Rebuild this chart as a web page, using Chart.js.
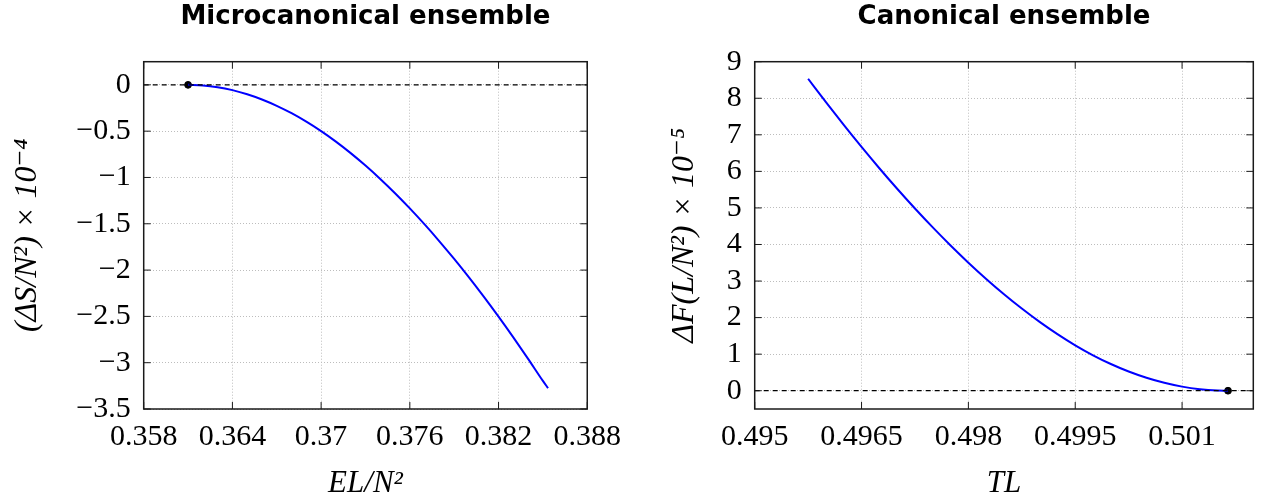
<!DOCTYPE html>
<html>
<head>
<meta charset="utf-8">
<script src="https://cdn.jsdelivr.net/npm/chart.js@4"></script>
<style>
  html, body { margin: 0; padding: 0; background: #fff; }
  #wrap { position: relative; width: 1262px; height: 504px; }
  .box { position: absolute; top: 0; width: 631px; height: 504px; }
</style>
</head>
<body>
<div id="wrap">
  <div class="box" style="left:0"><canvas id="microChart" width="631" height="504"></canvas></div>
  <div class="box" style="left:631px"><canvas id="canonChart" width="631" height="504"></canvas></div>
</div>
<script>
// Microcanonical: entropy difference vs energy
const microE = [0.361, 0.362, 0.363, 0.364, 0.365, 0.366, 0.367, 0.368, 0.369, 0.370, 0.371, 0.372, 0.373,
  0.374, 0.375, 0.376, 0.377, 0.378, 0.379, 0.380, 0.381, 0.382, 0.383, 0.384, 0.385, 0.38535];
const microS = [0, -0.0062, -0.0254, -0.0572, -0.1014, -0.1578, -0.2261, -0.3061, -0.3974, -0.4999, -0.6132,
  -0.7372, -0.8715, -1.0159, -1.1701, -1.3339, -1.5070, -1.6891, -1.8801, -2.0796, -2.2874, -2.5033,
  -2.7269, -2.9581, -3.1965, -3.275];
const microCrit = [0.361, 0];
const microTicksX = [0.358, 0.364, 0.37, 0.376, 0.382, 0.388];
const microTicksY = [0, -0.5, -1, -1.5, -2, -2.5, -3, -3.5];

// Canonical: free energy difference vs temperature
const canonT = [0.49575, 0.4960, 0.49625, 0.4965, 0.49675, 0.4970, 0.49725, 0.4975, 0.49775, 0.4980, 0.49825,
  0.4985, 0.49875, 0.4990, 0.49925, 0.4995, 0.49975, 0.5000, 0.50025, 0.5005, 0.50075, 0.5010, 0.50125, 0.5015, 0.501645];
const canonF = [8.534, 7.894, 7.272, 6.669, 6.086, 5.524, 4.984, 4.467, 3.973, 3.503, 3.058,
  2.639, 2.247, 1.883, 1.548, 1.242, 0.969, 0.730, 0.525, 0.354, 0.216, 0.112, 0.042, 0.006, 0];
const canonCrit = [0.501645, 0];
const canonTicksX = [0.495, 0.4965, 0.498, 0.4995, 0.501];
const canonTicksY = [0, 1, 2, 3, 4, 5, 6, 7, 8, 9];

const serif = "'Liberation Serif', 'DejaVu Serif', serif";
const fmt = v => String(v).replace('-', '\u2212');

// black frame with inward ticks on all four sides (pgfplots look)
const framePlugin = {
  id: 'frame',
  afterDraw(chart) {
    const { ctx, chartArea: a, scales: { x, y } } = chart;
    ctx.save();
    ctx.strokeStyle = '#1a1a1a';
    ctx.lineWidth = 1;
    ctx.beginPath();
    x.ticks.forEach(t => {
      const px = x.getPixelForValue(t.value);
      ctx.moveTo(px, a.bottom); ctx.lineTo(px, a.bottom - 7);
      ctx.moveTo(px, a.top); ctx.lineTo(px, a.top + 7);
    });
    y.ticks.forEach(t => {
      const py = y.getPixelForValue(t.value);
      ctx.moveTo(a.left, py); ctx.lineTo(a.left + 7, py);
      ctx.moveTo(a.right, py); ctx.lineTo(a.right - 7, py);
    });
    ctx.stroke();
    ctx.lineWidth = 1.5;
    ctx.strokeRect(a.left, a.top, a.width, a.height);
    ctx.restore();
  }
};

function makeChart(id, cfg) {
  const ctx = document.getElementById(id).getContext('2d');
  return new Chart(ctx, {
    type: 'scatter',
    data: {
      datasets: [
        {
          data: [{ x: cfg.xMin, y: 0 }, { x: cfg.xMax, y: 0 }],
          showLine: true,
          borderColor: '#000',
          borderWidth: 1.2,
          borderDash: [5, 4],
          pointRadius: 0
        },
        {
          data: cfg.xs.map((v, i) => ({ x: v, y: cfg.ys[i] })),
          showLine: true,
          borderColor: '#0000ff',
          borderWidth: 2,
          pointRadius: 0,
          cubicInterpolationMode: 'monotone'
        },
        {
          data: [{ x: cfg.crit[0], y: cfg.crit[1] }],
          backgroundColor: '#000',
          borderColor: '#000',
          pointRadius: 3.4
        }
      ]
    },
    options: {
      responsive: false,
      animation: false,
      layout: { padding: { left: 0, right: cfg.padRight, top: 0, bottom: 0 } },
      plugins: {
        legend: { display: false },
        tooltip: { enabled: false },
        title: {
          display: true,
          text: cfg.title,
          fullSize: false,
          color: '#000',
          font: { family: "'DejaVu Sans', sans-serif", size: 26, weight: 'bold' },
          padding: { top: 2, bottom: 28.5 }
        }
      },
      scales: {
        x: {
          type: 'linear',
          min: cfg.xMin,
          max: cfg.xMax,
          afterBuildTicks: s => { s.ticks = cfg.ticksX.map(v => ({ value: v })); },
          afterFit: s => { s.height = 95; },
          grid: { color: '#bdbdbd', lineWidth: 1, drawTicks: false },
          border: { display: false, dash: [1, 2] },
          ticks: { color: '#000', padding: 10, maxRotation: 0, autoSkip: false, font: { family: serif, size: 30 }, callback: fmt },
          title: {
            display: true,
            text: cfg.xTitle,
            color: '#000',
            font: { family: serif, size: 31, style: 'italic' },
            padding: { top: 0, bottom: 2 }
          }
        },
        y: {
          type: 'linear',
          min: cfg.yMin,
          max: cfg.yMax,
          afterBuildTicks: s => { s.ticks = cfg.ticksY.map(v => ({ value: v })); },
          afterFit: s => { s.width = cfg.yWidth; },
          grid: { color: '#bdbdbd', lineWidth: 1, drawTicks: false },
          border: { display: false, dash: [1, 2] },
          ticks: { color: '#000', padding: 13, autoSkip: false, font: { family: serif, size: 30 }, callback: fmt },
          title: {
            display: true,
            text: cfg.yTitle,
            color: '#000',
            font: { family: serif, size: 32, style: 'italic' },
            padding: { top: cfg.yTitlePad, bottom: 0 }
          }
        }
      }
    },
    plugins: [framePlugin]
  });
}

makeChart('microChart', {
  title: 'Microcanonical ensemble',
  xs: microE, ys: microS, crit: microCrit,
  xMin: 0.358, xMax: 0.388, yMin: -3.5, yMax: 0.25,
  ticksX: microTicksX, ticksY: microTicksY,
  xTitle: 'EL/N\u00b2',
  yTitle: '(\u0394S/N\u00b2) \u00d7 10\u207b\u2074',
  yWidth: 143.7, padRight: 42.3, yTitlePad: 8
});

makeChart('canonChart', {
  title: 'Canonical ensemble',
  xs: canonT, ys: canonF, crit: canonCrit,
  xMin: 0.495, xMax: 0.502, yMin: -0.5, yMax: 9,
  ticksX: canonTicksX, ticksY: canonTicksY,
  xTitle: 'TL',
  yTitle: '\u0394F(L/N\u00b2) \u00d7 10\u207b\u2075',
  yWidth: 123.7, padRight: 8.7, yTitlePad: 34
});
</script>
</body>
</html>
